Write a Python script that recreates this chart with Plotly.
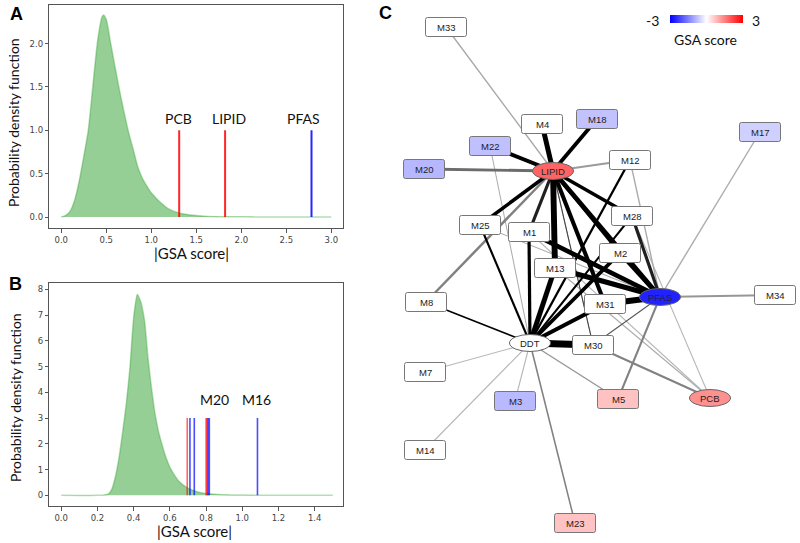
import plotly.graph_objects as go
from plotly.colors import sample_colorscale

# ---------------- Panel A data ----------------
A_x = [0.0, 0.05, 0.1, 0.15, 0.2, 0.25, 0.3, 0.35, 0.4, 0.45, 0.47, 0.5, 0.55, 0.6, 0.65, 0.7,
       0.75, 0.8, 0.85, 0.9, 0.95, 1.0, 1.1, 1.2, 1.3, 1.4, 1.5, 1.6, 1.8, 2.0, 2.5, 3.0]
A_y = [0.0, 0.02, 0.07, 0.2, 0.42, 0.7, 1.0, 1.5, 2.0, 2.3, 2.33, 2.28, 2.0, 1.72, 1.45, 1.2,
       0.97, 0.78, 0.58, 0.45, 0.36, 0.28, 0.17, 0.09, 0.05, 0.03, 0.018, 0.01, 0.004, 0.002, 0.0, 0.0]
A_names = ["PCB", "LIPID", "PFAS"]
A_scores = [1.31, 1.82, -2.78]
A_label_x = [1.30, 1.86, 2.69]

# ---------------- Panel B data ----------------
B_x = [0.0, 0.2, 0.26, 0.28, 0.3, 0.32, 0.34, 0.36, 0.38, 0.40, 0.42, 0.44, 0.46, 0.48, 0.50,
       0.52, 0.54, 0.56, 0.58, 0.60, 0.62, 0.65, 0.70, 0.75, 0.80, 0.90, 1.0, 1.2, 1.5]
B_y = [0.0, 0.0, 0.05, 0.25, 0.75, 1.5, 2.5, 3.6, 5.0, 6.9, 7.8, 7.5, 6.8, 5.3, 4.1,
       3.1, 2.4, 1.9, 1.45, 1.1, 0.85, 0.55, 0.28, 0.14, 0.07, 0.02, 0.01, 0.0, 0.0]
B_scores = [0.696, -0.711, -0.735, 0.800, 0.805, -0.811, -0.818, -1.084]
B_labels = ["M20", "M16"]
B_label_x = [0.846, 1.076]

# ---------------- Panel C data ----------------
node_names = ["M33", "M4", "M18", "M17", "M22", "M20", "LIPID", "M12", "M25", "M1", "M28",
              "M2", "M13", "M8", "M31", "PFAS", "M34", "DDT", "M30", "M7", "M3", "M5",
              "PCB", "M14", "M23"]
node_x = [446, 542, 597, 760, 490, 424, 553, 630, 480, 529, 632,
          620, 555, 426, 605, 660, 775, 530, 593, 425, 515, 618,
          710, 425, 575]
node_y = [27, 124, 119, 132, 146, 169, 171, 160, 225, 232, 216,
          253, 268, 302, 304, 297, 295, 343, 345, 372, 401, 399,
          398, 450, 523]
node_scores = [0, 0, -0.72, -0.55, -0.74, -0.85, 1.82, 0, 0, 0, 0,
               0, 0, 0, 0, -2.6, 0, 0, 0, 0, -0.82, 0.72,
               1.31, 0, 0.70]
ellipse_nodes = ["LIPID", "PFAS", "DDT", "PCB"]
score_range = [-3, 3]

# edges: source, target, strength (0-1), confidence (0-1)
edge_src = ["LIPID", "LIPID", "LIPID", "LIPID", "LIPID", "LIPID", "LIPID", "LIPID", "LIPID",
            "LIPID", "LIPID", "LIPID", "LIPID", "LIPID", "LIPID",
            "PFAS", "PFAS", "PFAS", "PFAS", "PFAS", "PFAS", "PFAS", "PFAS", "PFAS", "PFAS", "PFAS",
            "DDT", "DDT", "DDT", "DDT", "DDT", "DDT", "DDT", "DDT", "DDT", "DDT", "DDT", "DDT",
            "DDT", "DDT", "DDT",
            "PCB", "PCB", "PCB", "PCB", "M4"]
edge_dst = ["M20", "M22", "M4", "M18", "M12", "M33", "M25", "M1", "M13", "M28", "M31",
            "PFAS", "M2", "M8", "M30",
            "M31", "M13", "M1", "M2", "M28", "M34", "M30", "M5", "M17", "M25", "M12",
            "M8", "M25", "M1", "M13", "M2", "M28", "M12", "M31", "M30", "M7", "M14", "M3",
            "M23", "M5", "M22",
            "M30", "M28", "M13", "M1", "M30"]
edge_strength = [0.35, 0.5, 0.7, 0.5, 0.2, 0.1, 0.45, 0.4, 0.85, 0.45, 0.55,
                 0.65, 0.4, 0.28, 0.04,
                 0.85, 0.7, 0.65, 0.55, 0.4, 0.2, 0.04, 0.2, 0.1, 0.04, 0.1,
                 0.12, 0.22, 0.4, 0.7, 0.5, 0.2, 0.25, 0.55, 1.0, 0.05, 0.05, 0.05,
                 0.12, 0.1, 0.04,
                 0.2, 0.05, 0.05, 0.05, 0.04]
edge_conf = [0.5, 1, 1, 1, 0.28, 0.22, 1, 0.85, 1, 1, 1,
             1, 1, 0.4, 0.7,
             1, 1, 1, 1, 0.85, 0.3, 0.6, 0.4, 0.2, 0.2, 0.2,
             1, 1, 1, 1, 1, 1, 1, 1, 1, 0.15, 0.15, 0.15,
             0.4, 0.3, 0.2,
             0.4, 0.15, 0.2, 0.15, 0.2]

GSA_SCALE = [[0.0, "rgb(0,0,255)"], [0.5, "rgb(255,255,255)"], [1.0, "rgb(255,0,0)"]]

fig = go.Figure()

# ---- Panel A ----
fig.add_trace(go.Scatter(x=A_x, y=A_y, mode="lines", fill="tozeroy",
                         fillcolor="rgba(44,160,44,0.5)",
                         line=dict(color="rgba(44,160,44,0.35)", width=1.5, shape="spline", smoothing=0.6),
                         xaxis="x", yaxis="y", showlegend=False, hoverinfo="skip"))
for s in A_scores:
    fig.add_trace(go.Scatter(x=[abs(s), abs(s)], y=[0, 1], mode="lines",
                             line=dict(color="rgba(255,0,0,0.85)" if s > 0 else "rgba(0,0,255,0.85)", width=2),
                             xaxis="x", yaxis="y", showlegend=False, hoverinfo="skip"))

# ---- Panel B ----
fig.add_trace(go.Scatter(x=B_x, y=B_y, mode="lines", fill="tozeroy",
                         fillcolor="rgba(44,160,44,0.5)",
                         line=dict(color="rgba(44,160,44,0.35)", width=1.5, shape="spline", smoothing=0.6),
                         xaxis="x2", yaxis="y2", showlegend=False, hoverinfo="skip"))
for s in B_scores:
    fig.add_trace(go.Scatter(x=[abs(s), abs(s)], y=[0, 3], mode="lines",
                             line=dict(color="rgba(255,0,0,0.6)" if s > 0 else "rgba(0,0,255,0.7)", width=1.6),
                             xaxis="x2", yaxis="y2", showlegend=False, hoverinfo="skip"))

# ---- Panel C edges ----
pos = {n: (x, y) for n, x, y in zip(node_names, node_x, node_y)}
order = sorted(range(len(edge_src)), key=lambda i: (edge_conf[i], edge_strength[i]))
for i in order:
    (x0, y0), (x1, y1) = pos[edge_src[i]], pos[edge_dst[i]]
    g = int(round(215 * (1 - edge_conf[i])))
    fig.add_trace(go.Scatter(x=[x0, x1], y=[y0, y1], mode="lines",
                             line=dict(color=f"rgb({g},{g},{g})", width=0.8 + 6 * edge_strength[i]),
                             xaxis="x3", yaxis="y3", showlegend=False, hoverinfo="skip"))

# colour-scale key (gradient-filled box)
cb_x0, cb_x1, cb_y0, cb_y1 = 670, 743, 15, 23
fig.add_trace(go.Scatter(x=[cb_x0, cb_x1, cb_x1, cb_x0, cb_x0], y=[cb_y0, cb_y0, cb_y1, cb_y1, cb_y0],
                         mode="lines", line=dict(width=0), fill="toself",
                         fillgradient=dict(type="horizontal", colorscale=GSA_SCALE),
                         xaxis="x3", yaxis="y3", showlegend=False, hoverinfo="skip"))

shapes = []
annotations = []
node_colors = sample_colorscale(GSA_SCALE, [(s - score_range[0]) / (score_range[1] - score_range[0])
                                            for s in node_scores])
for n, x, y, c in zip(node_names, node_x, node_y, node_colors):
    if n in ellipse_nodes:
        shapes.append(dict(type="circle", xref="x3", yref="y3", x0=x - 20.5, x1=x + 20.5,
                           y0=y - 8.5, y1=y + 8.5, fillcolor=c,
                           line=dict(color="#666", width=1), layer="above"))
    else:
        x0, x1, y0, y1, r = x - 20.5, x + 20.5, y - 9.5, y + 9.5, 2
        path = (f"M {x0+r},{y0} L {x1-r},{y0} Q {x1},{y0} {x1},{y0+r} L {x1},{y1-r} "
                f"Q {x1},{y1} {x1-r},{y1} L {x0+r},{y1} Q {x0},{y1} {x0},{y1-r} "
                f"L {x0},{y0+r} Q {x0},{y0} {x0+r},{y0} Z")
        shapes.append(dict(type="path", xref="x3", yref="y3", path=path, fillcolor=c,
                           line=dict(color="#777", width=1), layer="above"))
    annotations.append(dict(x=x, y=y, xref="x3", yref="y3", text=n, showarrow=False,
                            xanchor="center", yanchor="middle",
                            font=dict(family="Liberation Sans", size=9.5, color="#222")))

# Panel A / B labels
lab_font = dict(family="Lato", size=14, color="#111")
for n, lx in zip(A_names, A_label_x):
    annotations.append(dict(x=lx, y=1.14, xref="x", yref="y", text=n, showarrow=False,
                            xanchor="center", yanchor="middle", font=lab_font))
for n, lx in zip(B_labels, B_label_x):
    annotations.append(dict(x=lx, y=3.74, xref="x2", yref="y2", text=n, showarrow=False,
                            xanchor="center", yanchor="middle", font=lab_font))


def px_note(x, y, text, font, angle=0):
    return dict(x=x / 800, y=1 - y / 543, xref="paper", yref="paper", text=text, textangle=angle,
                showarrow=False, xanchor="center", yanchor="middle", font=font)


title_font = dict(family="Lato", size=14, color="#111")
xt_font = dict(family="Lato", size=15, color="#111")
letter_font = dict(family="Liberation Sans", size=18, color="#000")
key_font = dict(family="Lato", size=14, color="#111")
annotations += [
    px_note(14, 123, "Probability density function", title_font, -90),
    px_note(15, 398, "Probability density function", title_font, -90),
    px_note(191, 253, "|GSA score|", xt_font),
    px_note(194, 531, "|GSA score|", xt_font),
    px_note(16, 14, "<b>A</b>", letter_font),
    px_note(15, 284, "<b>B</b>", letter_font),
    px_note(385, 13, "<b>C</b>", letter_font),
    px_note(652, 20, str(score_range[0]), key_font),
    px_note(756, 20, str(score_range[1]), key_font),
    px_note(705, 39, "GSA score", key_font),
]

ax_common = dict(showline=True, mirror=True, linecolor="#555", linewidth=1, ticks="outside",
                 ticklen=3.5, tickcolor="#555", showgrid=False, zeroline=False,
                 tickfont=dict(family="DejaVu Sans", size=8.5, color="#444"))

fig.update_layout(
    width=800, height=543, margin=dict(l=0, r=0, t=0, b=0, autoexpand=False),
    paper_bgcolor="white", plot_bgcolor="rgba(0,0,0,0)",
    xaxis=dict(domain=[0.0616, 0.4291], range=[-0.133, 3.133], tickvals=[0, 0.5, 1, 1.5, 2, 2.5, 3],
               tickformat=".1f", anchor="y", **ax_common),
    yaxis=dict(domain=[0.5796, 0.9908], range=[-0.13, 2.445], tickvals=[0, 0.5, 1, 1.5, 2],
               tickformat=".1f", anchor="x", **ax_common),
    xaxis2=dict(domain=[0.0616, 0.4291], range=[-0.066, 1.558], tickvals=[0, 0.2, 0.4, 0.6, 0.8, 1.0, 1.2, 1.4],
                tickformat=".1f", anchor="y2", **ax_common),
    yaxis2=dict(domain=[0.0681, 0.4783], range=[-0.415, 8.233], tickvals=list(range(9)),
                anchor="x2", **ax_common),
    xaxis3=dict(domain=[0, 1], range=[0, 800], visible=False, anchor="y3", fixedrange=True),
    yaxis3=dict(domain=[0, 1], range=[543, 0], visible=False, anchor="x3", fixedrange=True),
    shapes=shapes, annotations=annotations,
)

fig.write_html("out.html", config={"displayModeBar": False},
               post_script="document.body.style.margin='0';document.body.style.overflow='hidden';")
